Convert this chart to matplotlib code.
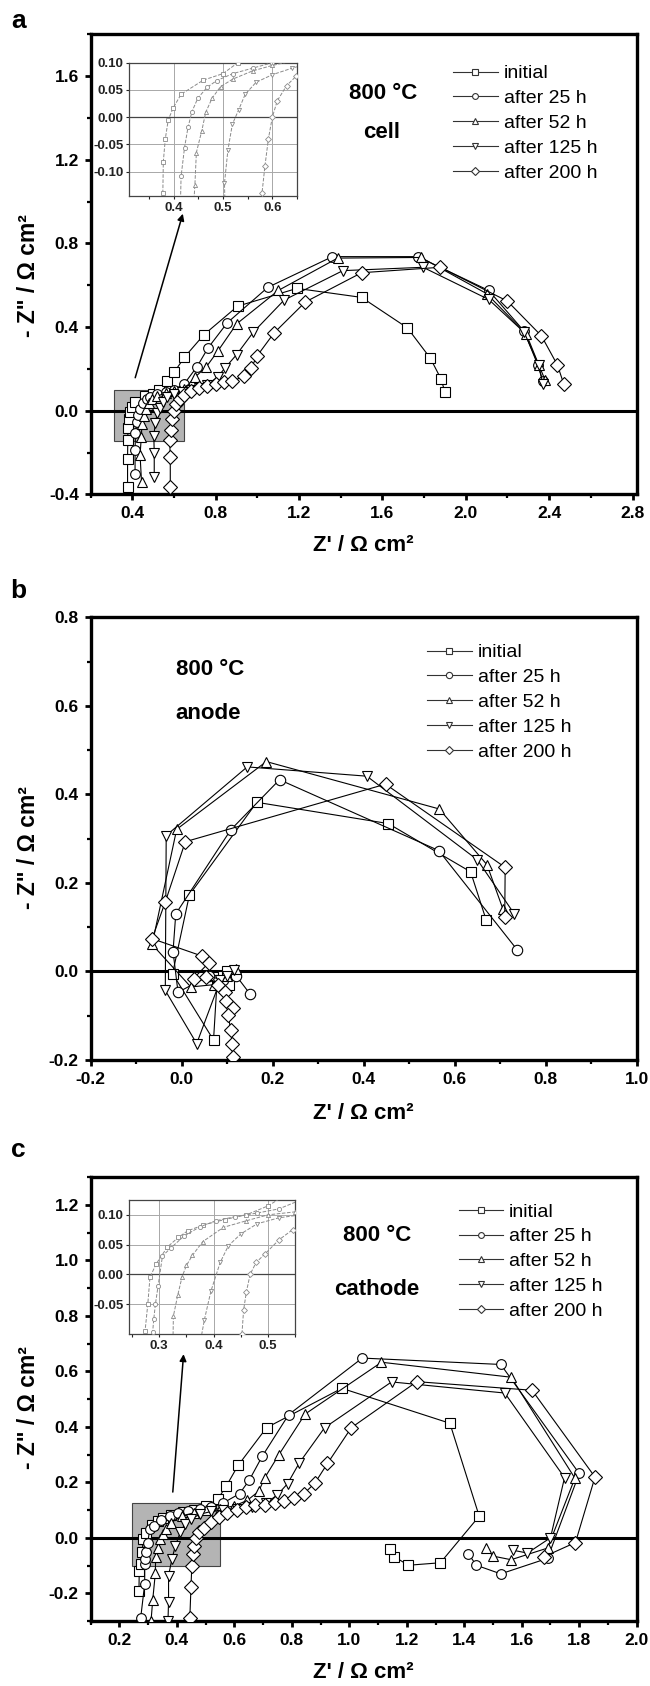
import matplotlib
matplotlib.use("Agg")
import matplotlib.pyplot as plt
from matplotlib.patches import Rectangle
from matplotlib.ticker import MultipleLocator, FormatStrFormatter

plt.rcParams['font.family'] = ['Liberation Sans', 'DejaVu Sans']
plt.rcParams['font.weight'] = 'bold'
plt.rcParams['axes.labelweight'] = 'bold'
plt.rcParams['axes.unicode_minus'] = False

# series names and symbols (same for all three panels)
labels = ["initial", "after 25 h", "after 52 h", "after 125 h", "after 200 h"]
markers = ['s', 'o', '^', 'v', 'D']

# --- (a) whole cell, Z' and -Z'' in ohm cm2 ---
cell_re = [
    [0.377, 0.377, 0.378, 0.379, 0.383, 0.389, 0.399, 0.415, 0.46, 0.50, 0.53, 0.565, 0.60, 0.65,
     0.743, 0.905, 1.19, 1.50, 1.72, 1.83, 1.88, 1.90],
    [0.413, 0.413, 0.415, 0.422, 0.429, 0.437, 0.449, 0.468, 0.487, 0.52, 0.56, 0.60, 0.65, 0.71,
     0.763, 0.855, 1.05, 1.36, 1.77, 2.11, 2.28, 2.345, 2.37],
    [0.444, 0.437, 0.443, 0.446, 0.457, 0.465, 0.478, 0.495, 0.52, 0.56, 0.60, 0.65, 0.70, 0.755,
     0.81, 0.90, 1.10, 1.385, 1.785, 2.10, 2.29, 2.35, 2.38],
    [0.505, 0.505, 0.503, 0.51, 0.519, 0.532, 0.545, 0.567, 0.60, 0.64, 0.68, 0.72, 0.76, 0.81,
     0.845, 0.90, 0.98, 1.128, 1.41, 1.795, 2.11, 2.28, 2.35, 2.37],
    [0.582, 0.582, 0.579, 0.585, 0.592, 0.60, 0.61, 0.629, 0.648, 0.68, 0.72, 0.76, 0.80, 0.84,
     0.878, 0.935, 0.97, 1.0, 1.08, 1.23, 1.50, 1.877, 2.20, 2.363, 2.44, 2.47],
]
cell_im = [
    [-0.367, -0.231, -0.14, -0.082, -0.04, -0.005, 0.017, 0.042, 0.068, 0.08, 0.10, 0.14, 0.183,
     0.256, 0.363, 0.50, 0.585, 0.542, 0.396, 0.251, 0.154, 0.09],
    [-0.303, -0.188, -0.109, -0.056, -0.019, 0.01, 0.035, 0.055, 0.067, 0.08, 0.09, 0.10, 0.13,
     0.21, 0.30, 0.42, 0.59, 0.737, 0.737, 0.575, 0.38, 0.22, 0.14],
    [-0.34, -0.212, -0.125, -0.065, -0.025, 0.009, 0.035, 0.056, 0.07, 0.085, 0.095, 0.105, 0.16,
     0.21, 0.285, 0.415, 0.575, 0.73, 0.733, 0.56, 0.367, 0.22, 0.148],
    [-0.319, -0.204, -0.121, -0.06, -0.013, 0.014, 0.042, 0.064, 0.078, 0.09, 0.10, 0.11, 0.125,
     0.162, 0.205, 0.268, 0.375, 0.529, 0.67, 0.686, 0.532, 0.375, 0.218, 0.128],
    [-0.364, -0.22, -0.14, -0.09, -0.04, 0.0, 0.03, 0.058, 0.075, 0.095, 0.11, 0.12, 0.128, 0.135,
     0.14, 0.165, 0.205, 0.264, 0.372, 0.52, 0.66, 0.686, 0.524, 0.358, 0.218, 0.128],
]

# --- (b) anode ---
anode_re = [
    [0.669, 0.635, 0.454, 0.165, 0.017, -0.02, 0.07, 0.078, 0.09, 0.10, 0.105],
    [0.738, 0.565, 0.215, 0.108, -0.013, -0.019, -0.008, 0.06, 0.09, 0.12, 0.151],
    [0.706, 0.671, 0.566, 0.186, -0.011, -0.065, 0.02, 0.07, 0.10, 0.12],
    [0.731, 0.65, 0.407, 0.144, -0.034, -0.036, 0.033, 0.085, 0.10, 0.115],
    [0.71, 0.711, 0.448, 0.008, -0.036, -0.065, 0.044, 0.06, 0.026, 0.053, 0.08, 0.095, 0.097,
     0.112, 0.102, 0.108, 0.111, 0.112],
]
anode_im = [
    [0.117, 0.225, 0.334, 0.382, 0.173, -0.005, -0.155, -0.02, -0.01, 0.0, -0.03],
    [0.048, 0.273, 0.433, 0.32, 0.13, 0.045, -0.047, -0.01, -0.02, -0.01, -0.052],
    [0.141, 0.241, 0.367, 0.474, 0.321, 0.061, -0.035, -0.03, -0.01, 0.005],
    [0.130, 0.252, 0.441, 0.462, 0.307, -0.043, -0.163, -0.02, -0.01, 0.003],
    [0.122, 0.235, 0.423, 0.293, 0.157, 0.074, 0.035, 0.02, -0.016, -0.012, -0.03, -0.047, -0.066,
     -0.082, -0.099, -0.133, -0.165, -0.194],
]

# --- (c) cathode ---
cathode_re = [
    [0.268, 0.269, 0.274, 0.279, 0.283, 0.294, 0.315, 0.335, 0.352, 0.381, 0.42, 0.46, 0.50,
     0.542, 0.571, 0.613, 0.712, 0.974, 1.35, 1.452, 1.317, 1.205, 1.157, 1.141],
    [0.274, 0.288, 0.288, 0.29, 0.293, 0.298, 0.306, 0.321, 0.345, 0.375, 0.404, 0.44, 0.48, 0.52,
     0.56, 0.618, 0.652, 0.697, 0.789, 1.045, 1.527, 1.80, 1.69, 1.527, 1.442, 1.414],
    [0.31, 0.316, 0.325, 0.326, 0.334, 0.342, 0.35, 0.361, 0.38, 0.418, 0.46, 0.50, 0.55, 0.60,
     0.645, 0.685, 0.706, 0.754, 0.846, 1.112, 1.563, 1.785, 1.69, 1.563, 1.50, 1.477],
    [0.369, 0.371, 0.371, 0.383, 0.395, 0.412, 0.427, 0.45, 0.48, 0.52, 0.56, 0.61, 0.66, 0.71,
     0.75, 0.785, 0.826, 0.914, 1.147, 1.541, 1.749, 1.70, 1.62, 1.57],
    [0.445, 0.449, 0.452, 0.455, 0.46, 0.467, 0.478, 0.495, 0.52, 0.545, 0.575, 0.61, 0.64, 0.671,
     0.707, 0.742, 0.774, 0.806, 0.842, 0.88, 0.924, 1.007, 1.235, 1.636, 1.855, 1.787, 1.678],
]
cathode_im = [
    [-0.193, -0.118, -0.095, -0.05, -0.005, 0.017, 0.046, 0.062, 0.073, 0.083, 0.092, 0.10, 0.115,
     0.139, 0.185, 0.261, 0.397, 0.539, 0.413, 0.078, -0.09, -0.099, -0.068, -0.041],
    [-0.289, -0.166, -0.096, -0.075, -0.05, -0.019, 0.031, 0.044, 0.064, 0.08, 0.09, 0.097, 0.103,
     0.11, 0.125, 0.159, 0.208, 0.294, 0.444, 0.648, 0.625, 0.232, -0.074, -0.13, -0.099, -0.057],
    [-0.30, -0.223, -0.128, -0.07, -0.035, -0.004, 0.015, 0.032, 0.055, 0.079, 0.09, 0.10, 0.105,
     0.115, 0.135, 0.168, 0.217, 0.298, 0.446, 0.633, 0.579, 0.215, -0.037, -0.079, -0.066, -0.037],
    [-0.30, -0.23, -0.136, -0.076, -0.028, 0.02, 0.048, 0.068, 0.085, 0.095, 0.10, 0.105, 0.112,
     0.125, 0.155, 0.195, 0.27, 0.397, 0.562, 0.522, 0.217, 0.0, -0.055, -0.045],
    [-0.29, -0.178, -0.10, -0.06, -0.03, 0.0, 0.02, 0.035, 0.058, 0.075, 0.09, 0.10, 0.11, 0.119,
     0.119, 0.125, 0.132, 0.142, 0.159, 0.197, 0.268, 0.397, 0.563, 0.532, 0.219, -0.017, -0.068],
]

TICK_SIZE = 12.5
XLABEL_SIZE = 16
YLABEL_SIZE = 16.5
NOTE_SIZE = 16
XLABEL = "Z' / \u03a9 cm\u00b2"
YLABEL = '- Z" / \u03a9 cm\u00b2'


def style_axes(ax, xlim, ylim, xmaj, xmin, ymaj, ymin, xlab_y, ylab_y):
    ax.set_xlim(*xlim)
    ax.set_ylim(*ylim)
    ax.xaxis.set_major_locator(MultipleLocator(xmaj))
    ax.xaxis.set_minor_locator(MultipleLocator(xmin))
    ax.yaxis.set_major_locator(MultipleLocator(ymaj))
    ax.yaxis.set_minor_locator(MultipleLocator(ymin))
    ax.xaxis.set_major_formatter(FormatStrFormatter('%.1f'))
    ax.yaxis.set_major_formatter(FormatStrFormatter('%.1f'))
    for s in ax.spines.values():
        s.set_linewidth(2.4)
    ax.tick_params(which='major', direction='out', length=4.5, width=2, pad=4,
                   labelsize=TICK_SIZE)
    ax.tick_params(which='minor', direction='out', length=3, width=1.6)
    ax.set_xlabel(XLABEL, fontsize=XLABEL_SIZE, fontweight='bold')
    ax.set_ylabel(YLABEL, fontsize=YLABEL_SIZE, fontweight='bold')
    ax.xaxis.set_label_coords(0.5, xlab_y)
    ax.yaxis.set_label_coords(-0.093, ylab_y)
    ax.axhline(0, color='k', lw=2.2, zorder=2)


def plot_series(ax, xs, ys, ms=7):
    for x, y, m, lab in zip(xs, ys, markers, labels):
        size = ms * 0.95 if m == 'D' else ms
        ax.plot(x, y, color='k', lw=0.8, marker=m, ms=size, mfc='white', mec='k',
                mew=0.8, zorder=3, label=lab)


def add_legend(ax, x, y):
    leg = ax.legend(loc='upper left', bbox_to_anchor=(x, y), frameon=False,
                    prop=dict(size=14, weight='normal'),
                    handlelength=2.3, handletextpad=0.3, labelspacing=0.37, markerscale=0.6,
                    borderpad=0, borderaxespad=0)
    for h in leg.legend_handles:
        h.set_color('#333333')
        h.set_markeredgecolor('#333333')
        h.set_markerfacecolor('white')


def add_inset(fig, rect, xs, ys, xlim, ylim, xt, yt):
    ins = fig.add_axes(rect)
    for x, y, m in zip(xs, ys, markers):
        ins.plot(x, y, color='#8a8a8a', lw=0.7, ls='--', marker=m, ms=3, mfc='white',
                 mec='#8a8a8a', mew=0.6, zorder=3)
    ins.set_xlim(*xlim)
    ins.set_ylim(*ylim)
    ins.set_xticks(xt)
    ins.set_yticks(yt)
    ins.xaxis.set_minor_locator(MultipleLocator(0.05))
    ins.xaxis.set_major_formatter(FormatStrFormatter('%.1f'))
    ins.yaxis.set_major_formatter(FormatStrFormatter('%.2f'))
    ins.grid(True, which='major', color='#a8a8a8', lw=0.7)
    ins.axhline(0, color='#444444', lw=0.9, zorder=2)
    for s in ins.spines.values():
        s.set_color('#444444')
        s.set_linewidth(0.9)
    ins.tick_params(which='both', direction='out', length=2, width=0.8, pad=2,
                    labelsize=9.5, colors='#222222')
    return ins


def add_note(ax, x, y, text, ha='center'):
    ax.text(x, y, text, transform=ax.transAxes, ha=ha, va='center', fontsize=NOTE_SIZE,
            fontweight='bold')


fig = plt.figure(figsize=(6.5, 16.86), dpi=100)

# ---------------- (a) cell ----------------
ax_a = fig.add_axes([0.1395, 0.7068, 0.840, 0.2728])
plot_series(ax_a, cell_re, cell_im)
style_axes(ax_a, (0.2, 2.82), (-0.4, 1.8), 0.4, 0.2, 0.4, 0.2, -0.088, 0.475)
ax_a.add_patch(Rectangle((0.31, -0.145), 0.34, 0.245, fc='#b4b4b4', ec='#444444', lw=0.8, zorder=1))
add_legend(ax_a, 0.6635, 0.934)
add_note(ax_a, 0.536, 0.872, "800 \u00b0C")
add_note(ax_a, 0.532, 0.787, "cell")
ax_a.annotate('', xy=(0.646, 0.955), xytext=(0.41, 0.145),
              arrowprops=dict(arrowstyle='-|>', color='k', lw=1.1, mutation_scale=10))
add_inset(fig, [0.1989, 0.8837, 0.258, 0.0791], cell_re, cell_im,
          (0.31, 0.65), (-0.145, 0.10), [0.4, 0.5, 0.6], [-0.10, -0.05, 0.0, 0.05, 0.10])

# ---------------- (b) anode ----------------
ax_b = fig.add_axes([0.1395, 0.3713, 0.840, 0.2626])
plot_series(ax_b, anode_re, anode_im, ms=7.5)
style_axes(ax_b, (-0.2, 1.0), (-0.2, 0.8), 0.2, 0.1, 0.2, 0.1, -0.098, 0.48)
add_legend(ax_b, 0.616, 0.94)
add_note(ax_b, 0.156, 0.883, "800 \u00b0C", ha='left')
add_note(ax_b, 0.156, 0.782, "anode", ha='left')

# ---------------- (c) cathode ----------------
ax_c = fig.add_axes([0.1395, 0.03855, 0.840, 0.2632])
plot_series(ax_c, cathode_re, cathode_im)
style_axes(ax_c, (0.1, 2.0), (-0.3, 1.3), 0.2, 0.1, 0.2, 0.1, -0.092, 0.48)
ax_c.add_patch(Rectangle((0.245, -0.10), 0.305, 0.225, fc='#b4b4b4', ec='#444444', lw=0.8, zorder=1))
add_legend(ax_c, 0.674, 0.942)
add_note(ax_c, 0.524, 0.868, "800 \u00b0C")
add_note(ax_c, 0.524, 0.748, "cathode")
ax_c.annotate('', xy=(0.424, 0.672), xytext=(0.385, 0.155),
              arrowprops=dict(arrowstyle='-|>', color='k', lw=1.1, mutation_scale=10))
add_inset(fig, [0.1989, 0.2088, 0.2554, 0.0795], cathode_re, cathode_im,
          (0.245, 0.55), (-0.10, 0.125), [0.3, 0.4, 0.5], [-0.05, 0.0, 0.05, 0.10])

# panel letters
for letter, yy in (('a', 1 - 21 / 1686), ('b', 1 - 591 / 1686), ('c', 1 - 1150 / 1686)):
    fig.text(0.028, yy, letter, ha='center', va='center', fontsize=19, fontweight='bold')

fig.savefig("out.png", dpi=100)
